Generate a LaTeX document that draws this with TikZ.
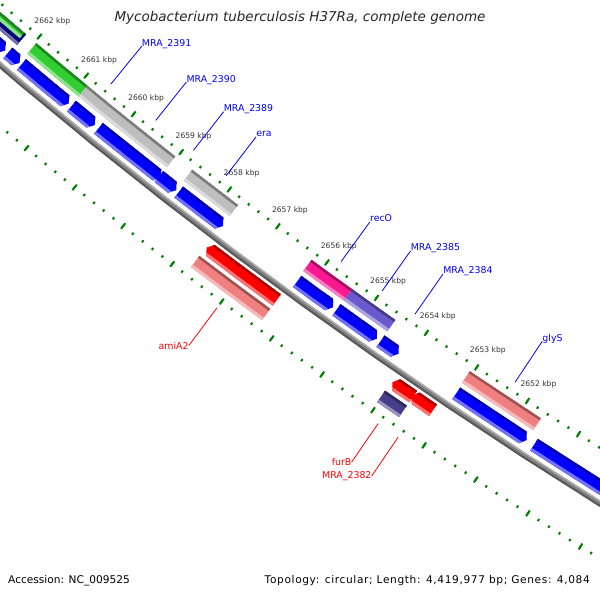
\documentclass[tikz,border=0pt]{standalone}
\usepackage{fontspec}
\setmainfont{DejaVu Sans}
\usepackage{tikz}
\usetikzlibrary{calc}

\definecolor{cgblue}{RGB}{0,0,255}
\definecolor{cggray}{RGB}{190,190,190}
\definecolor{cggreen}{RGB}{50,205,50}
\definecolor{cgnavy}{RGB}{0,0,120}
\definecolor{cgpink}{RGB}{250,25,145}
\definecolor{cgpurple}{RGB}{106,90,205}
\definecolor{cgsalmon}{RGB}{240,128,128}
\definecolor{cgred}{RGB}{255,0,0}
\definecolor{cgslate}{RGB}{72,61,139}
\definecolor{tickgreen}{RGB}{0,128,0}
\definecolor{bbgray}{RGB}{130,130,130}

% kbp -> angle round the genome centre
\pgfmathdeclarefunction{kb}{1}{\pgfmathparse{126.06+0.693*(#1-2656)}}

% feature: from kbp, to kbp, inner r, outer r, arrow (0 none, 1 tip at end, 2 tip at start), colour
\newcommand{\feat}[6]{%
  \begin{scope}
    \ifcase#5\relax
      \clip ({kb(#1)}:#3) -- ({kb((#1+#2)/2)}:#3) -- ({kb(#2)}:#3) -- ({kb(#2)}:#4) -- ({kb((#1+#2)/2)}:#4) -- ({kb(#1)}:#4) -- cycle;
    \or
      \clip ({kb(#1)}:#3) -- ({kb((#1+#2)/2)}:#3) -- ({kb(#2+0.08)}:#3) -- ({kb(#2)}:{(#3+#4)/2}) -- ({kb(#2+0.08)}:#4) -- ({kb((#1+#2)/2)}:#4) -- ({kb(#1)}:#4) -- cycle;
    \or
      \clip ({kb(#1-0.08)}:#3) -- ({kb((#1+#2)/2)}:#3) -- ({kb(#2)}:#3) -- ({kb(#2)}:#4) -- ({kb((#1+#2)/2)}:#4) -- ({kb(#1-0.08)}:#4) -- ({kb(#1)}:{(#3+#4)/2}) -- cycle;
    \fi
    \fill[#6] ({kb(#1+0.2)}:{#3-2}) -- ({kb((#1+#2)/2)}:{#3-2}) -- ({kb(#2-0.2)}:{#3-2}) -- ({kb(#2-0.2)}:{#4+2}) -- ({kb((#1+#2)/2)}:{#4+2}) -- ({kb(#1+0.2)}:{#4+2}) -- cycle;
    \fill[#6!65!black] ({kb(#1+0.2)}:{#3-2}) -- ({kb((#1+#2)/2)}:{#3-2}) -- ({kb(#2-0.2)}:{#3-2}) -- ({kb(#2-0.2)}:{#3+2.5}) -- ({kb((#1+#2)/2)}:{#3+2.5}) -- ({kb(#1+0.2)}:{#3+2.5}) -- cycle;
    \fill[#6!55!white] ({kb(#1+0.2)}:{#4-3}) -- ({kb((#1+#2)/2)}:{#4-3}) -- ({kb(#2-0.2)}:{#4-3}) -- ({kb(#2-0.2)}:{#4+2}) -- ({kb((#1+#2)/2)}:{#4+2}) -- ({kb(#1+0.2)}:{#4+2}) -- cycle;
  \end{scope}}

\tikzset{
  smalltick/.style={draw=tickgreen, line width=2},
  bigtick/.style={draw=tickgreen, line width=2},
  ticklab/.style={font=\fontsize{7.6}{9}\selectfont, text=black!80, inner sep=0},
  glab/.style={font=\fontsize{9.4}{11}\selectfont, inner sep=0},
  foot/.style={font=\fontsize{10.6}{12}\selectfont, inner sep=0},
}

\begin{document}
\begin{tikzpicture}[x=1pt, y=-1pt]
  \useasboundingbox (0,0) rectangle (600,600);
  \fill[white] (0,0) rectangle (600,600);

  \begin{scope}
    \clip (0,0) rectangle (600,600);
    \begin{scope}[shift={(3293,-3811)}]
      % backbone
      \draw[bbgray, line width=5.5] plot[domain=120.5:132.5, samples=49] (\x:5086);
      \draw[black!65, line width=2] plot[domain=120.5:132.5, samples=49] (\x:5088);
      \draw[black!30, line width=1.2] plot[domain=120.5:132.5, samples=49] (\x:5084);

      % tick rings
      \foreach \i in {0,...,80} {
        \draw[smalltick] ({kb(2648+\i/5)}:5037.7) -- ({kb(2648+\i/5)}:5040.3);
        \draw[smalltick] ({kb(2648+\i/5)}:5131.7) -- ({kb(2648+\i/5)}:5134.3);
      }
      \foreach \k in {2648,...,2664} {
        \draw[bigtick] ({kb(\k)}:5035.5) -- ({kb(\k)}:5042.5);
        \draw[bigtick] ({kb(\k)}:5129.5) -- ({kb(\k)}:5136.5);
      }
      \foreach \k in {2652,...,2662}
        \node[ticklab] (t\k) at ({kb(\k)}:5019) {\k\ kbp};

      % inner track, COG colours
      \feat{2663.5}{2662.19}{5046}{5060}{0}{cgnavy}
      \feat{2663.5}{2662.23}{5046}{5053}{0}{cggreen}
      \feat{2661.97}{2660.88}{5046}{5060}{0}{cggreen}
      \feat{2660.88}{2660.33}{5046}{5060}{0}{cggray}
      \feat{2660.33}{2659.03}{5046}{5060}{0}{cggray}
      \feat{2658.68}{2657.73}{5046}{5060}{0}{cggray}
      \feat{2656.23}{2655.41}{5046}{5060}{0}{cgpink}
      \feat{2655.41}{2654.54}{5046}{5060}{0}{cgpurple}
      \feat{2653.06}{2651.66}{5046}{5060}{0}{cgsalmon}

      % inner track, genes
      \foreach \s/\e in {2663.5/2662.28, 2662.22/2661.97, 2661.93/2660.93, 2660.87/2660.38,
                         2660.30/2659.00, 2659.04/2658.68, 2658.63/2657.72, 2656.21/2655.49,
                         2655.42/2654.61, 2654.54/2654.18, 2653.04/2651.66, 2651.52/2649.0}
        \feat{\s}{\e}{5065}{5079}{1}{cgblue};

      % outer tracks
      \feat{2657.72}{2656.30}{5092}{5106}{2}{cgred}
      \feat{2653.62}{2653.20}{5092}{5106}{2}{cgred}
      \feat{2654.00}{2653.59}{5092}{5106}{2}{cgred}
      \feat{2657.73}{2656.30}{5110}{5124}{0}{cgsalmon}
      \feat{2654.02}{2653.59}{5110}{5124}{0}{cgslate}

      % labels
      \foreach \n/\k/\t in {2391/2660.6/MRA\_2391, 2390/2659.65/MRA\_2390, 2389/2658.86/MRA\_2389,
                            era/2658.18/era, recO/2655.82/recO, 2385/2654.99/MRA\_2385,
                            2384/2654.33/MRA\_2384, glyS/2652.34/glyS} {
        \coordinate (c\n) at ({kb(\k)}:5030);
        \node[glab, text=cgblue, anchor=base west] (n\n) at ({kb(\k)}:4981) {\t};
        \draw[cgblue, line width=0.8] (c\n) -- (n\n.base west);
      }
      \foreach \n/\k/\t in {amiA2/2657.0/amiA2, furB/2653.81/furB, 2382/2653.42/MRA\_2382} {
        \coordinate (c\n) at ({kb(\k)}:5141);
        \node[glab, text=cgred, anchor=east] (n\n) at ({kb(\k)}:5188) {\t};
        \draw[cgred, line width=0.8] (c\n) -- (n\n.east);
      }
    \end{scope}
  \end{scope}

  % title and footer
  \node[font=\fontsize{13.5}{16}\selectfont\itshape, text=black!85, inner sep=0] (title) at (300,18)
    {Mycobacterium tuberculosis H37Ra, complete genome};
  \node[foot, anchor=west] (acc) at (8,581) {Accession: NC\_009525};
  \node[foot, anchor=east] (topo) at (590,581)
    {\addfontfeature{LetterSpace=6}Topology: circular; Length: 4,419,977 bp; Genes: 4,084};
\end{tikzpicture}
\end{document}
